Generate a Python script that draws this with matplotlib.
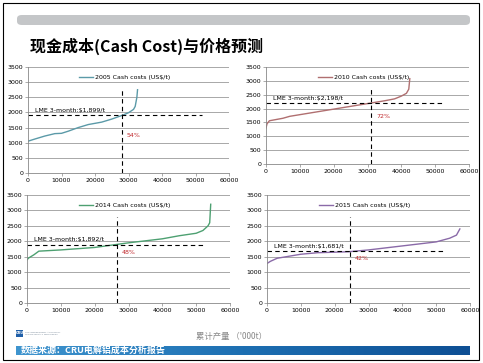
import matplotlib.pyplot as plt
from matplotlib.patches import FancyBboxPatch, Rectangle
import numpy as np

plt.rcParams['font.family'] = ['Noto Sans CJK SC', 'DejaVu Sans']

# --- data ---
x05 = [0, 2000, 5000, 8000, 10000, 12000, 15000, 18000, 22000, 25000, 27000, 28500, 30000, 31500, 32000, 32500, 32700]
y05 = [1050, 1120, 1220, 1300, 1310, 1380, 1500, 1600, 1680, 1780, 1860, 1920, 1990, 2100, 2200, 2500, 2750]
x10 = [0, 300, 1000, 5000, 7000, 12000, 20000, 25000, 30000, 35000, 38000, 40000, 41500, 42200, 42500]
y10 = [1300, 1450, 1560, 1650, 1720, 1820, 1980, 2080, 2180, 2280, 2350, 2450, 2550, 2700, 3080]
x14 = [0, 500, 2000, 3500, 10000, 20000, 30000, 40000, 45000, 50000, 52000, 53500, 54000, 54300]
y14 = [1400, 1460, 1560, 1680, 1720, 1800, 1950, 2080, 2180, 2260, 2350, 2500, 2600, 3200]
x15 = [0, 1000, 3000, 10000, 15000, 24000, 30000, 40000, 50000, 54000, 56000, 57000]
y15 = [1280, 1350, 1450, 1580, 1630, 1660, 1720, 1850, 1980, 2100, 2200, 2400]

years = ['2005', '2010', '2014', '2015']
lme_price = [1899, 2198, 1892, 1681]
lme_text = ['LME 3-month:$1,899/t', 'LME 3-month:$2,198/t', 'LME 3-month:$1,892/t', 'LME 3-month:$1,681/t']
cut_x = [28000, 31000, 26500, 24500]
pct = ['54%', '72%', '48%', '42%']
pct_y = [1250, 1700, 1650, 1450]
xs = [x05, x10, x14, x15]
ys = [y05, y10, y14, y15]
colors = ['#5b9aa8', '#b06f70', '#4da071', '#8a6aa8']

W, H = 483, 363
fig = plt.figure(figsize=(W / 100, H / 100), dpi=100)

def fx(px):
    return px / W

def fy(py):
    return 1 - py / H

# slide border
fig.add_artist(Rectangle((fx(3), fy(360)), fx(476), 1 - fy(357), transform=fig.transFigure,
                         fill=False, ec='black', lw=0.8))
# grey header bar
fig.add_artist(FancyBboxPatch((fx(17), fy(25)), fx(453), fy(15) - fy(25),
                              boxstyle='round,pad=0,rounding_size=0.01', transform=fig.transFigure,
                              fc='#c4c6c8', ec='none'))
fig.text(fx(30), fy(46), '现金成本(Cash Cost)与价格预测', fontsize=11.5, fontweight='bold',
         va='center', ha='left')

# axes boxes: left, right, top, bottom in pixels
boxes = [(28, 229, 67, 173), (266, 469, 67, 164), (27, 230, 195, 303), (267, 470, 195, 303)]

for i in range(4):
    l, r, t, b = boxes[i]
    ax = fig.add_axes([fx(l), fy(b), fx(r - l), fy(t) - fy(b)])
    ax.plot(xs[i], ys[i], color=colors[i], lw=1.0, label=f'{years[i]} Cash costs (US$/t)')
    ax.plot([0, 52000], [lme_price[i], lme_price[i]], color='black', ls=(0, (4, 3)), lw=0.8)
    ax.plot([cut_x[i], cut_x[i]], [0, 2780], color='black', ls=(0, (4, 3)), lw=0.8)
    ax.text(2000, lme_price[i] + 80, lme_text[i], fontsize=4.5, family='DejaVu Sans', va='bottom')
    ax.text(cut_x[i] + 1500, pct_y[i], pct[i], fontsize=4.5, color='#c0282c', family='DejaVu Sans',
            va='center')
    ax.set_xlim(0, 60000)
    ax.set_ylim(0, 3500)
    ax.set_xticks(np.arange(0, 60001, 10000))
    ax.set_yticks(np.arange(0, 3501, 500))
    ax.tick_params(labelsize=4.5, length=2, width=0.5, color='#888888', pad=1.5)
    for lab in ax.get_xticklabels() + ax.get_yticklabels():
        lab.set_family('DejaVu Sans')
    ax.grid(axis='y', color='#9a9a9a', lw=0.6)
    ax.set_axisbelow(True)
    for s in ['top', 'right']:
        ax.spines[s].set_visible(False)
    for s in ['left', 'bottom']:
        ax.spines[s].set_color('#888888')
        ax.spines[s].set_linewidth(0.6)
    leg = ax.legend(loc='upper center', bbox_to_anchor=(0.48, 0.98), frameon=False,
                    fontsize=4.5, handlelength=2.2, handletextpad=0.3,
                    prop={'family': 'DejaVu Sans', 'size': 4.5})

# footer
fig.add_artist(Rectangle((fx(16), fy(337)), fx(7), fy(330) - fy(337), transform=fig.transFigure,
                         fc='#1f5fa8', ec='none'))
fig.text(fx(19.5), fy(333.5), 'CRU', fontsize=2.5, color='white', ha='center', va='center',
         fontweight='bold', family='DejaVu Sans')
fig.text(fx(25), fy(333.5), 'THE INDEPENDENT AUTHORITY\nMINING METALS FERTILIZERS', fontsize=1.6,
         color='#7a8a9a', ha='left', va='center', family='DejaVu Sans')
fig.text(fx(232), fy(336), "累计产量 （'000t）", fontsize=6, color='#888888', ha='center', va='center')

grad = np.linspace(0, 1, 256).reshape(1, -1)
bar_ax = fig.add_axes([fx(16), fy(355), fx(454), fy(346) - fy(355)])
from matplotlib.colors import LinearSegmentedColormap
cmap = LinearSegmentedColormap.from_list('bluebar', ['#3f95cf', '#1d6fb2', '#0e4f94'])
bar_ax.imshow(grad, aspect='auto', cmap=cmap, extent=[0, 1, 0, 1])
bar_ax.axis('off')
fig.text(fx(21), fy(350.5), '数据来源：CRU电解铝成本分析报告', fontsize=6.5, color='white',
         fontweight='bold', ha='left', va='center')

fig.savefig('out.png', dpi=100)
